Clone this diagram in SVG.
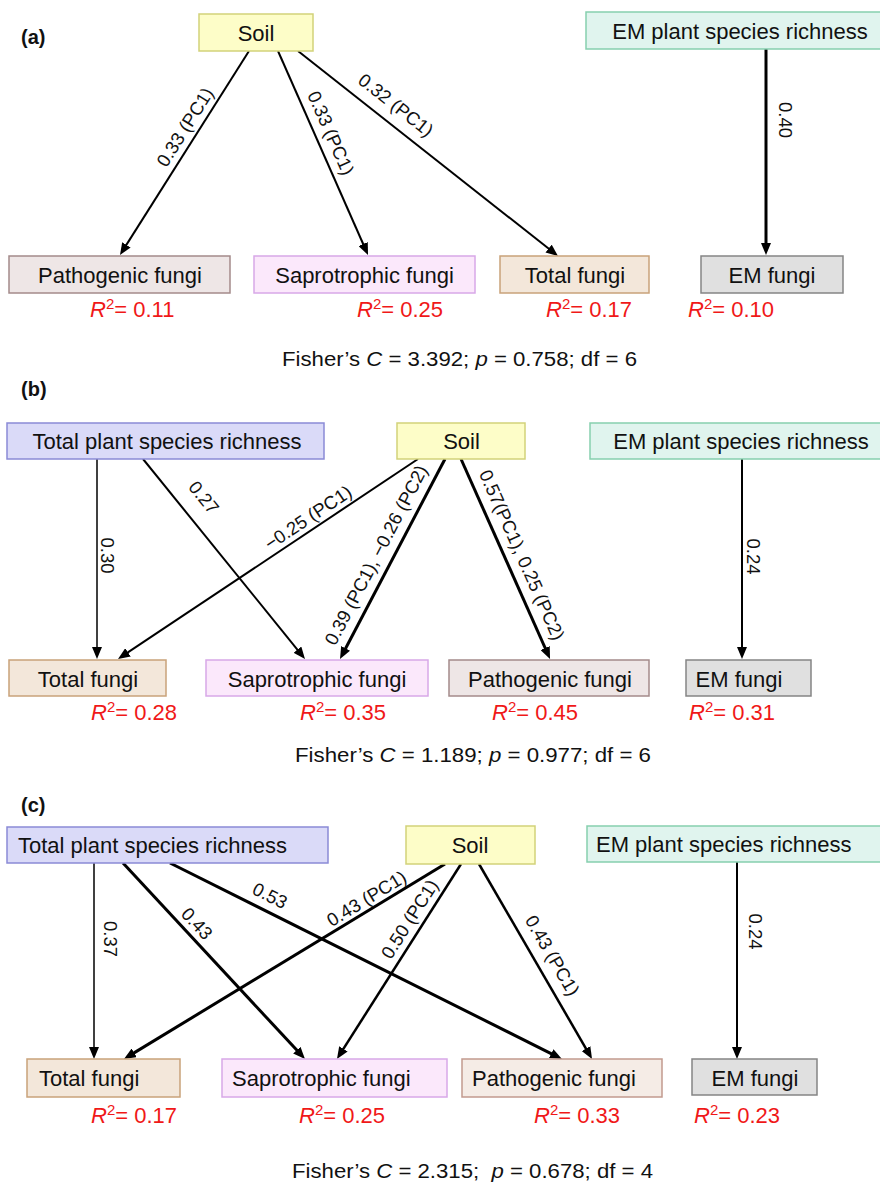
<svg xmlns="http://www.w3.org/2000/svg" width="880" height="1186" viewBox="0 0 880 1186">
<style>
text{font-family:"Liberation Sans",Arial,sans-serif;fill:#111}
.node{font-size:22px}
.lab{font-size:18.5px}
.r2{font-size:22px;fill:#f01818}
.r2 tspan{fill:#f01818}
.fish{font-size:20px}
.pan{font-size:20px;font-weight:bold}
.edge{stroke:#000;fill:none;marker-end:url(#arr)}
.soil{fill:#fdfdc8;stroke:#d2d27a;stroke-width:1.5}
.emp{fill:#e0f4ee;stroke:#86cfae;stroke-width:1.5}
.tpl{fill:#dadaf8;stroke:#8a8ad6;stroke-width:1.5}
.pat{fill:#eee6e6;stroke:#a48a8a;stroke-width:1.5}
.pat2{fill:#f5ece6;stroke:#c29a8e;stroke-width:1.5}
.sap{fill:#fbe8fb;stroke:#d8a8e8;stroke-width:1.5}
.tot{fill:#f3e7da;stroke:#c9a27a;stroke-width:1.5}
.emf{fill:#e0e0e0;stroke:#858585;stroke-width:1.5}
</style>
<defs>
<marker id="arr" markerUnits="userSpaceOnUse" markerWidth="12" markerHeight="10" refX="6" refY="5" orient="auto">
<path d="M0,0 L12,5 L0,10 z" fill="#000"/>
</marker>
</defs>
<rect width="880" height="1186" fill="#fff"/>

<!-- Panel labels -->
<text class="pan" x="21" y="44">(a)</text>
<text class="pan" x="21" y="396">(b)</text>
<text class="pan" x="21" y="812">(c)</text>

<!-- Connectors -->
<g id="connectors">
<line class="edge" x1="249" y1="51" x2="123.2" y2="249.9" stroke-width="2"/>
<line class="edge" x1="278" y1="51" x2="365.6" y2="249.5" stroke-width="2"/>
<line class="edge" x1="298" y1="51" x2="553.3" y2="252.3" stroke-width="2"/>
<line class="edge" x1="766" y1="49" x2="766" y2="249" stroke-width="3"/>

<line class="edge" x1="97" y1="459" x2="97" y2="653" stroke-width="1.5"/>
<line class="edge" x1="143" y1="459" x2="301.2" y2="654.3" stroke-width="2"/>
<line class="edge" x1="418" y1="459" x2="123" y2="655.7" stroke-width="2"/>
<line class="edge" x1="445" y1="459" x2="342.8" y2="653.7" stroke-width="3"/>
<line class="edge" x1="461" y1="459" x2="547.6" y2="653.5" stroke-width="3"/>
<line class="edge" x1="742" y1="459" x2="742" y2="653" stroke-width="2"/>

<line class="edge" x1="94" y1="863" x2="94" y2="1053" stroke-width="1.5"/>
<line class="edge" x1="123" y1="863" x2="300.9" y2="1054.6" stroke-width="3"/>
<line class="edge" x1="170" y1="863" x2="556.6" y2="1056.3" stroke-width="3"/>
<line class="edge" x1="445" y1="864" x2="129.1" y2="1055.9" stroke-width="3"/>
<line class="edge" x1="461" y1="864" x2="340.2" y2="1053.9" stroke-width="2.5"/>
<line class="edge" x1="479" y1="864" x2="589" y2="1053.8" stroke-width="2.5"/>
<line class="edge" x1="737" y1="862" x2="737" y2="1053" stroke-width="2"/>

<!-- edge labels -->
<text class="lab" text-anchor="middle" y="6.5" transform="translate(185,127) rotate(-57.7)">0.33 (PC1)</text>
<text class="lab" text-anchor="middle" y="6.5" transform="translate(331,133) rotate(66.2)">0.33 (PC1)</text>
<text class="lab" text-anchor="middle" y="6.5" transform="translate(396,105) rotate(38.3)">0.32 (PC1)</text>
<text class="lab" text-anchor="middle" y="6.5" transform="translate(785,120) rotate(90)">0.40</text>

<text class="lab" text-anchor="middle" y="6.5" transform="translate(107.5,555.5) rotate(90)">0.30</text>
<text class="lab" text-anchor="middle" y="6.5" transform="translate(204,497.5) rotate(51)">0.27</text>
<text class="lab" text-anchor="middle" y="6.5" transform="translate(308,517.5) rotate(-33.7)">−0.25 (PC1)</text>
<text class="lab" text-anchor="middle" y="6.5" transform="translate(376,555) rotate(-62.3)">0.39 (PC1), −0.26 (PC2)</text>
<text class="lab" text-anchor="middle" y="6.5" transform="translate(522,555) rotate(66)">0.57(PC1), 0.25 (PC2)</text>
<text class="lab" text-anchor="middle" y="6.5" transform="translate(753.5,556.5) rotate(90)">0.24</text>

<text class="lab" text-anchor="middle" y="6.5" transform="translate(110.5,939) rotate(90)">0.37</text>
<text class="lab" text-anchor="middle" y="6.5" transform="translate(197,923.5) rotate(47.1)">0.43</text>
<text class="lab" text-anchor="middle" y="6.5" transform="translate(270,895.5) rotate(26.6)">0.53</text>
<text class="lab" text-anchor="middle" y="6.5" transform="translate(366.5,898.5) rotate(-31.3)">0.43 (PC1)</text>
<text class="lab" text-anchor="middle" y="6.5" transform="translate(409.5,919) rotate(-57.5)">0.50 (PC1)</text>
<text class="lab" text-anchor="middle" y="6.5" transform="translate(552.5,955.5) rotate(59.9)">0.43 (PC1)</text>
<text class="lab" text-anchor="middle" y="6.5" transform="translate(755,931.5) rotate(90)">0.24</text>
</g>

<!-- Panel (a) nodes -->
<g id="a-soil"><rect class="soil" x="199" y="14" width="114" height="37"/><text class="node" x="256" y="40.5" text-anchor="middle">Soil</text></g>
<g id="a-emplant"><rect class="emp" x="586" y="12" width="304" height="37"/><text class="node" x="740" y="38.5" text-anchor="middle">EM plant species richness</text></g>
<g id="a-patho"><rect class="pat" x="9" y="256" width="221" height="37"/><text class="node" x="120" y="282.5" text-anchor="middle">Pathogenic fungi</text></g>
<g id="a-sapro"><rect class="sap" x="254" y="256" width="221" height="37"/><text class="node" x="364.5" y="282.5" text-anchor="middle">Saprotrophic fungi</text></g>
<g id="a-total"><rect class="tot" x="500" y="256" width="149" height="37"/><text class="node" x="575" y="282.5" text-anchor="middle">Total fungi</text></g>
<g id="a-emfungi"><rect class="emf" x="701" y="256" width="142" height="37"/><text class="node" x="772" y="282.5" text-anchor="middle">EM fungi</text></g>
<text class="r2" x="90" y="317"><tspan font-style="italic">R</tspan><tspan font-size="15" dy="-8">2</tspan><tspan dy="8">= 0.11</tspan></text>
<text class="r2" x="357" y="317"><tspan font-style="italic">R</tspan><tspan font-size="15" dy="-8">2</tspan><tspan dy="8">= 0.25</tspan></text>
<text class="r2" x="546" y="317"><tspan font-style="italic">R</tspan><tspan font-size="15" dy="-8">2</tspan><tspan dy="8">= 0.17</tspan></text>
<text class="r2" x="688" y="317"><tspan font-style="italic">R</tspan><tspan font-size="15" dy="-8">2</tspan><tspan dy="8">= 0.10</tspan></text>
<text class="fish" x="282" y="366" textLength="355" lengthAdjust="spacingAndGlyphs">Fisher’s <tspan font-style="italic">C</tspan> = 3.392; <tspan font-style="italic">p</tspan> = 0.758; df = 6</text>

<!-- Panel (b) nodes -->
<g id="b-totplant"><rect class="tpl" x="7" y="423" width="317" height="36"/><text class="node" x="167" y="449" text-anchor="middle">Total plant species richness</text></g>
<g id="b-soil"><rect class="soil" x="397" y="423" width="128" height="36"/><text class="node" x="461.5" y="449" text-anchor="middle">Soil</text></g>
<g id="b-emplant"><rect class="emp" x="590" y="423" width="300" height="36"/><text class="node" x="741" y="449" text-anchor="middle">EM plant species richness</text></g>
<g id="b-total"><rect class="tot" x="9" y="660" width="157" height="36"/><text class="node" x="88" y="686.5" text-anchor="middle">Total fungi</text></g>
<g id="b-sapro"><rect class="sap" x="206" y="660" width="222" height="36"/><text class="node" x="317" y="686.5" text-anchor="middle">Saprotrophic fungi</text></g>
<g id="b-patho"><rect class="pat" x="449" y="660" width="200" height="36"/><text class="node" x="550" y="686.5" text-anchor="middle">Pathogenic fungi</text></g>
<g id="b-emfungi"><rect class="emf" x="686" y="660" width="125" height="36"/><text class="node" x="739" y="686.5" text-anchor="middle">EM fungi</text></g>
<text class="r2" x="91" y="720"><tspan font-style="italic">R</tspan><tspan font-size="15" dy="-8">2</tspan><tspan dy="8">= 0.28</tspan></text>
<text class="r2" x="300" y="720"><tspan font-style="italic">R</tspan><tspan font-size="15" dy="-8">2</tspan><tspan dy="8">= 0.35</tspan></text>
<text class="r2" x="492" y="720"><tspan font-style="italic">R</tspan><tspan font-size="15" dy="-8">2</tspan><tspan dy="8">= 0.45</tspan></text>
<text class="r2" x="689" y="720"><tspan font-style="italic">R</tspan><tspan font-size="15" dy="-8">2</tspan><tspan dy="8">= 0.31</tspan></text>
<text class="fish" x="295" y="762" textLength="356" lengthAdjust="spacingAndGlyphs">Fisher’s <tspan font-style="italic">C</tspan> = 1.189; <tspan font-style="italic">p</tspan> = 0.977; df = 6</text>

<!-- Panel (c) nodes -->
<g id="c-totplant"><rect class="tpl" x="7" y="827" width="321" height="36"/><text class="node" x="18" y="853">Total plant species richness</text></g>
<g id="c-soil"><rect class="soil" x="406" y="826" width="129" height="38"/><text class="node" x="470" y="853" text-anchor="middle">Soil</text></g>
<g id="c-emplant"><rect class="emp" x="587" y="826" width="303" height="36"/><text class="node" x="596" y="852">EM plant species richness</text></g>
<g id="c-total"><rect class="tot" x="27" y="1059" width="153" height="38"/><text class="node" x="39" y="1086">Total fungi</text></g>
<g id="c-sapro"><rect class="sap" x="222" y="1059" width="225" height="38"/><text class="node" x="232" y="1086">Saprotrophic fungi</text></g>
<g id="c-patho"><rect class="pat2" x="462" y="1059" width="200" height="38"/><text class="node" x="472" y="1086">Pathogenic fungi</text></g>
<g id="c-emfungi"><rect class="emf" x="692" y="1059" width="125" height="36"/><text class="node" x="755" y="1086" text-anchor="middle">EM fungi</text></g>
<text class="r2" x="91" y="1123"><tspan font-style="italic">R</tspan><tspan font-size="15" dy="-8">2</tspan><tspan dy="8">= 0.17</tspan></text>
<text class="r2" x="299" y="1123"><tspan font-style="italic">R</tspan><tspan font-size="15" dy="-8">2</tspan><tspan dy="8">= 0.25</tspan></text>
<text class="r2" x="534" y="1123"><tspan font-style="italic">R</tspan><tspan font-size="15" dy="-8">2</tspan><tspan dy="8">= 0.33</tspan></text>
<text class="r2" x="694" y="1123"><tspan font-style="italic">R</tspan><tspan font-size="15" dy="-8">2</tspan><tspan dy="8">= 0.23</tspan></text>
<text class="fish" x="292" y="1178" textLength="361" lengthAdjust="spacingAndGlyphs" xml:space="preserve">Fisher’s <tspan font-style="italic">C</tspan> = 2.315;  <tspan font-style="italic">p</tspan> = 0.678; df = 4</text>
</svg>
